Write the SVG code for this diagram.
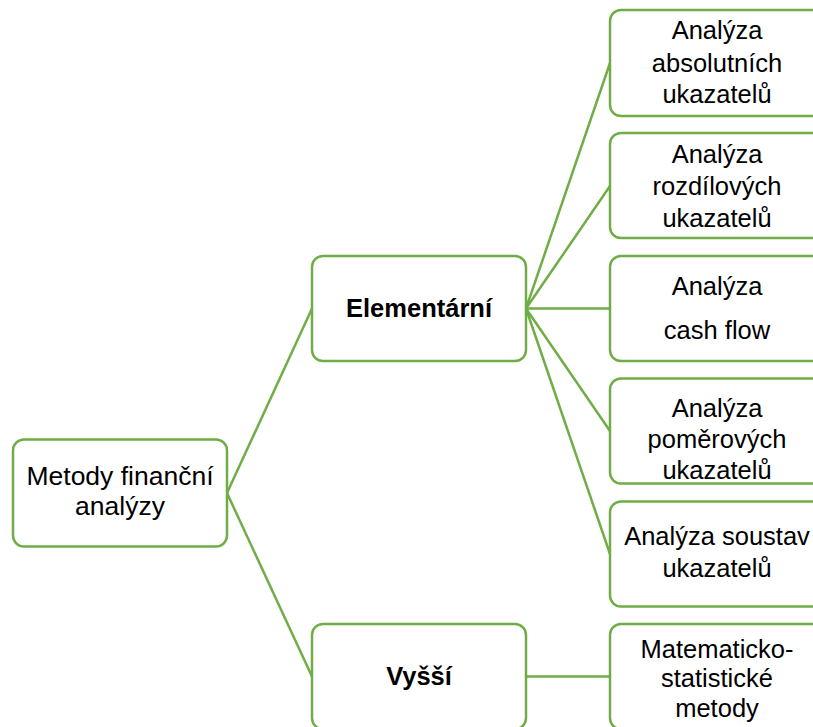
<svg xmlns="http://www.w3.org/2000/svg" width="813" height="727" viewBox="0 0 813 727">
<style>
.box{fill:#fff;stroke:#70AD47;stroke-width:2.5}
.c{fill:none;stroke:#70AD47;stroke-width:2.5}
text{font-family:"Liberation Sans",Arial,sans-serif;font-size:25.5px;fill:#000;text-anchor:middle}
.r{font-size:26.5px}
.b{font-weight:bold;font-size:25.5px}
</style>
<rect width="813" height="727" fill="#fff"/>
<g id="connectors">
<line class="c" x1="227" y1="493" x2="312" y2="308.5"/>
<line class="c" x1="227" y1="493" x2="312" y2="676.5"/>
<line class="c" x1="526" y1="308.5" x2="610" y2="63"/>
<line class="c" x1="526" y1="308.5" x2="610" y2="186"/>
<line class="c" x1="526" y1="308.5" x2="610" y2="308.5"/>
<line class="c" x1="526" y1="308.5" x2="610" y2="431"/>
<line class="c" x1="526" y1="308.5" x2="610" y2="554"/>
<line class="c" x1="526" y1="676.5" x2="610" y2="676.5"/>
</g>
<g id="root">
<rect class="box" x="13" y="439.5" width="214" height="107" rx="11"/>
<text class="r" x="120" y="485">Metody finanční</text>
<text class="r" x="120" y="515">analýzy</text>
</g>
<g id="elementarni">
<rect class="box" x="312" y="256" width="214" height="105" rx="11"/>
<text class="b" x="419" y="317">Elementární</text>
</g>
<g id="vyssi">
<rect class="box" x="312" y="624" width="214" height="105" rx="11"/>
<text class="b" x="419" y="685">Vyšší</text>
</g>
<g id="absolutni">
<rect class="box" x="610" y="10" width="214" height="106" rx="11"/>
<text x="717" y="39">Analýza</text>
<text x="717" y="72">absolutních</text>
<text x="717" y="103">ukazatelů</text>
</g>
<g id="rozdilove">
<rect class="box" x="610" y="133" width="214" height="105" rx="11"/>
<text x="717" y="163">Analýza</text>
<text x="717" y="195">rozdílových</text>
<text x="717" y="226.5">ukazatelů</text>
</g>
<g id="cashflow">
<rect class="box" x="610" y="256" width="214" height="105" rx="11"/>
<text x="717" y="295">Analýza</text>
<text x="717" y="339">cash flow</text>
</g>
<g id="pomerove">
<rect class="box" x="610" y="378.5" width="214" height="105" rx="11"/>
<text x="717" y="416.5">Analýza</text>
<text x="717" y="448">poměrových</text>
<text x="717" y="479">ukazatelů</text>
</g>
<g id="soustavy">
<rect class="box" x="610" y="501.5" width="214" height="105" rx="11"/>
<text x="717" y="545">Analýza soustav</text>
<text x="717" y="577">ukazatelů</text>
</g>
<g id="matstat">
<rect class="box" x="610" y="624" width="214" height="105" rx="11"/>
<text x="717" y="658">Matematicko-</text>
<text x="717" y="687">statistické</text>
<text x="717" y="716.5">metody</text>
</g>
</svg>
